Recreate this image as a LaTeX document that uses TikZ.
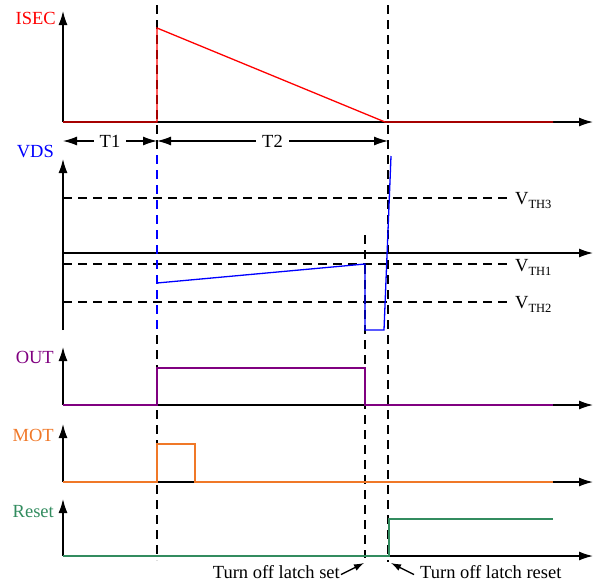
\documentclass[tikz,border=0pt]{standalone}
\usepackage{fontspec}
\setmainfont{Liberation Serif}
\usetikzlibrary{arrows.meta,positioning}
\definecolor{isecred}{RGB}{255,0,0}
\definecolor{vdsblue}{RGB}{0,0,255}
\definecolor{outpurple}{RGB}{128,0,128}
\definecolor{motorange}{RGB}{240,120,40}
\definecolor{resetgreen}{RGB}{50,140,95}
\newcommand{\vthlabel}[1]{V\raisebox{-4pt}{\fontsize{12.5}{13}\selectfont TH#1}}
\tikzset{
    %Define standard arrow tip
    >={Latex[length=14pt,width=9pt]},
    %Define style for axes
    axisline/.style={
             ->,
             line width=1.4pt, black},
    % Define style for time markers and thresholds
    markline/.style={
             line width=1.3pt,
             dash pattern=on 9pt off 6pt},
    thline/.style={
             line width=1.2pt,
             dash pattern=on 9pt off 6pt},
    % Define style for waveforms
    wave/.style={
             line width=1.3pt},
    siglabel/.style={
             anchor=east, inner sep=0pt},
    spanarrow/.style={
             <->,
             line width=1.2pt},
    notearrow/.style={
             -{Latex[length=10pt,width=7pt]},
             line width=1.3pt}
}
\begin{document}
\begin{tikzpicture}[x=1pt, y=-1pt, font=\fontsize{18.5}{22}\selectfont]
 \useasboundingbox (0,0) rectangle (599,587);
 % time markers
 \draw[markline] (157,5) -- (157,560);
 \draw[markline] (388,5) -- (388,562);
 \draw[markline] (365,235) -- (365,558);
 % axes
 \coordinate (o1) at (63,122);
 \coordinate (o2) at (63,253);
 \coordinate (o3) at (63,405);
 \coordinate (o4) at (63,482);
 \coordinate (o5) at (63,556);
 \draw[axisline] (o1) -- (63,11);
 \draw[axisline] (o1) -- (593,122);
 \draw[axisline] (63,330) -- (63,159);
 \draw[axisline] (o2) -- (593,253);
 \draw[axisline] (o3) -- (63,347);
 \draw[axisline] (o3) -- (593,405);
 \draw[axisline] (o4) -- (63,424);
 \draw[axisline] (o4) -- (593,482);
 \draw[axisline] (o5) -- (63,499);
 \draw[axisline] (o5) -- (593,556);
 % signal names
 \node[siglabel, text=isecred] (isec) at (56,18) {ISEC};
 \node[siglabel, text=vdsblue] (vds) at (54,152) {VDS};
 \node[siglabel, text=outpurple] (out) at (54,357) {OUT};
 \node[siglabel, text=motorange] (mot) at (54,435) {MOT};
 \node[siglabel, text=resetgreen] (reset) at (54,512) {Reset};
 % T1 and T2
 \coordinate (s0) at (63,141);
 \coordinate (s1) at (157,141);
 \coordinate (s2) at (388,141);
 \draw[spanarrow] (s0) -- node[fill=white, inner xsep=6pt] (t1) {T1} (s1);
 \draw[spanarrow] (s1) -- node[fill=white, inner xsep=6pt] (t2) {T2} (s2);
 % thresholds
 \draw[thline] (63,198) -- (510,198);
 \draw[thline] (63,264) -- (510,264);
 \draw[thline] (63,302) -- (510,302);
 \node[anchor=base west, inner sep=0pt] (vth3) at (515,204) {\vthlabel{3}};
 \node[anchor=base west, inner sep=0pt] (vth1) at (515,271) {\vthlabel{1}};
 \node[anchor=base west, inner sep=0pt] (vth2) at (515,308) {\vthlabel{2}};
 % ISEC
 \draw[wave, isecred] (o1) -- (157,122) -- (157,28) -- (385,122) -- (553,122);
 % VDS
 \draw[wave, vdsblue, dash pattern=on 9pt off 6pt] (157,155) -- (157,330);
 \draw[wave, vdsblue] (157,283) -- (365,264) -- (365,330) -- (384,330) -- (391,156);
 % OUT
 \draw[wave, outpurple] (o3) -- (157,405) -- (157,368) -- (365,368) -- (365,405) -- (553,405);
 % MOT
 \draw[wave, motorange] (o4) -- (157,482) -- (157,444) -- (195,444) -- (195,482) -- (553,482);
 % Reset
 \draw[wave, resetgreen] (o5) -- (389,556) -- (389,519) -- (553,519);
 % notes
 \node[anchor=base east, inner sep=0pt] (setnote) at (340,578) {Turn off latch set};
 \node[anchor=base west, inner sep=0pt] (resetnote) at (420,578) {Turn off latch reset};
 \coordinate (setpoint) at (364,563);
 \coordinate (resetpoint) at (391,563);
 \draw[notearrow] (setnote.east) ++(1,3) -- (setpoint);
 \draw[notearrow] (resetnote.west) ++(-6,3) -- (resetpoint);
\end{tikzpicture}
\end{document}
